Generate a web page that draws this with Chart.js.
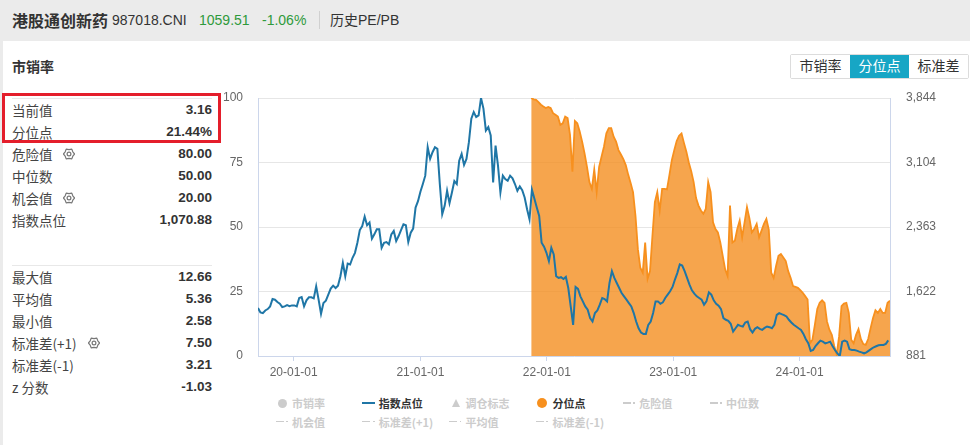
<!DOCTYPE html>
<html>
<head>
<meta charset="utf-8">
<script src="https://cdn.jsdelivr.net/npm/chart.js@4.4.1/dist/chart.umd.min.js"></script>
<style>
  html, body { margin: 0; padding: 0; }
  body {
    width: 970px; height: 445px; overflow: hidden; position: relative;
    background: #ebebeb; color: #333;
    font-family: 'Liberation Sans', 'Noto Sans CJK SC', sans-serif;
  }
  .abs { position: absolute; white-space: nowrap; }
  .head { top: 0; line-height: 40px; font-size: 14px; }
  .panel { left: 3px; top: 41px; width: 967px; height: 404px; background: #fff; }
  .title { left: 12px; top: 55px; font-size: 14px; font-weight: bold; line-height: 22px; }
  .btns { left: 790px; top: 54px; height: 23px; display: flex; border: 1px solid #dcdcdc; border-radius: 2px; }
  .btns div { font-size: 14px; line-height: 23px; padding: 0 8.5px; color: #333; background: #fff; }
  .btns div.on { background: #17a6c5; color: #fff; }
  .row { left: 12px; width: 200px; height: 22px; line-height: 22px; font-size: 14px; }
  .row .lab { position: absolute; left: 0; color: #444; font-family: 'Noto Sans CJK SC', sans-serif; font-size: 13.5px; }
  .row .val { position: absolute; right: 0; font-weight: bold; font-size: 13.5px; color: #333; }
  .row svg { position: absolute; top: 5px; }
  .hr { left: 12px; width: 200px; height: 1px; background: #e8e8e8; }
  .redbox { left: 2px; top: 93px; width: 219px; height: 50px; box-sizing: border-box; border: 3px solid #e41e2b; z-index: 5; }
  .chartbox { left: 220px; top: 85px; width: 750px; height: 300px; }
  .leg { height: 16px; line-height: 16px; font-size: 11px; font-weight: bold; font-family: 'Noto Sans CJK SC', sans-serif; color: #cccccc; }
  .leg.on { color: #333; }
  .leg i { position: absolute; display: block; }
  .leg span { position: absolute; left: 16.5px; top: 0; }
</style>
</head>
<body>
<div class="abs panel"></div>

<div class="abs head" style="left:12px;font-size:16px;font-weight:bold;font-family:'Noto Sans CJK SC',sans-serif;">港股通创新药</div>
<div class="abs head" style="left:112px;">987018.CNI</div>
<div class="abs head" style="left:199px;color:#2f9a3b;">1059.51</div>
<div class="abs head" style="left:262px;color:#2f9a3b;">-1.06%</div>
<div class="abs" style="left:319px;top:11px;width:1px;height:18px;background:#d0d0d0;"></div>
<div class="abs head" style="left:330px;">历史PE/PB</div>

<div class="abs title" style="font-family:'Noto Sans CJK SC',sans-serif;">市销率</div>

<div class="abs btns">
  <div>市销率</div><div class="on">分位点</div><div>标准差</div>
</div>

<div class="abs hr" style="top:98px;"></div>
<div class="abs hr" style="top:265px;"></div>
<div class="abs redbox"></div>
<div id="stats"></div>

<div class="abs chartbox"><canvas id="chart" width="750" height="300"></canvas></div>
<div id="legend"></div>

<script>
// weekly samples
const indexStart = '2019-09-20';
const pctStart = '2021-11-17';
const stepDays = 7;

// 指数点位 (right axis)
const indexValues = [
  1431, 1381, 1374, 1404, 1420, 1451, 1535, 1528, 1501, 1481,
  1443, 1451, 1466, 1454, 1462, 1462, 1451, 1547, 1558, 1451,
  1520, 1555, 1555, 1543, 1682, 1528, 1366, 1489, 1516, 1585,
  1655, 1689, 1662, 1689, 1797, 1951, 1797, 1943, 1932, 2009,
  2066, 2182, 2328, 2374, 2482, 2382, 2413, 2228, 2278, 2336,
  2336, 2124, 2182, 2190, 2163, 2278, 2317, 2201, 2259, 2328,
  2394, 2382, 2190, 2297, 2344, 2586, 2659, 2767, 2856, 2952,
  3279, 3144, 3221, 3279, 3260, 2856, 2509, 2605, 2779, 2636,
  2759, 2890, 2856, 3125, 3202, 3075, 3144, 3337, 3606, 3683,
  3625, 3645, 3844, 3722, 3471, 3510, 3414, 2875, 3298, 3067,
  2759, 2952, 2913, 2894, 2952, 2921, 2856, 2779, 2829, 2786,
  2702, 2567, 2451, 2790, 2690, 2586, 2490, 2182, 2136, 2066,
  1970, 2124, 2047, 1797, 1778, 1786, 1766, 1789, 1662, 1451,
  1239, 1674, 1651, 1566, 1508, 1451, 1412, 1316, 1277, 1374,
  1404, 1470, 1547, 1535, 1508, 1720, 1855, 1778, 1720, 1662,
  1605, 1566, 1528, 1489, 1451, 1374, 1277, 1200, 1150, 1135,
  1135, 1239, 1277, 1374, 1508, 1508, 1481, 1497, 1547, 1585,
  1624, 1674, 1759, 1836, 1932, 1920, 1855, 1778, 1701, 1635,
  1597, 1566, 1547, 1528, 1470, 1508, 1612, 1585, 1520, 1481,
  1458, 1420, 1316, 1297, 1285, 1251, 1162, 1200, 1239, 1227,
  1220, 1266, 1277, 1189, 1150, 1193, 1212, 1193, 1181, 1204,
  1220, 1212, 1200, 1239, 1354, 1374, 1362, 1351, 1335, 1297,
  1266, 1239, 1220, 1200, 1181, 1135, 1073, 1027, 939, 950,
  996, 1027, 1058, 1046, 1027, 1035, 1046, 996, 950, 912,
  881, 1046, 1058, 1046, 958, 950, 950, 943, 931, 923,
  912, 923, 943, 962, 981, 993, 1004, 1008, 1008, 1020,
  1060
];

// 分位点 % (left axis)
const pctValues = [
  100, 99.5, 99.3, 98.4, 97.4, 96.7, 96.1, 96.5, 96.1, 94.1,
  93.5, 92.8, 89.6, 90.2, 92.8, 92.2, 85.7, 71.4, 91.1, 90.2,
  87.0, 83.1, 78.5, 73.3, 67.4, 64.8, 72.3, 63.5, 73.3, 77.2,
  81.1, 86.3, 88.3, 88.3, 85.0, 83.1, 79.8, 78.1, 76.3, 74.0,
  70.3, 67.1, 63.5, 54.4, 41.4, 34.2, 32.3, 44.0, 29.9, 32.9,
  46.6, 59.6, 63.5, 56.4, 64.8, 64.8, 64.6, 70.1, 75.9, 79.8,
  83.3, 85.4, 86.3, 82.6, 79.2, 75.0, 71.6, 67.4, 61.2, 58.3,
  56.4, 55.1, 57.0, 67.4, 63.5, 51.8, 49.2, 47.9, 44.0, 38.8,
  33.6, 31.0, 58.3, 44.0, 44.7, 49.2, 52.5, 46.0, 51.8, 57.7,
  53.4, 47.9, 49.2, 51.2, 46.0, 48.6, 51.2, 53.1, 49.0, 32.3,
  30.3, 34.9, 38.8, 39.5, 38.2, 36.8, 32.9, 30.3, 27.1, 26.8,
  26.4, 25.5, 24.5, 23.2, 21.9, 4.9, 6.3, 12.1, 18.2, 20.6,
  21.6, 20.6, 13.4, 10.2, 8.2, 3.9, 0.5, 7.6, 19.3, 20.3,
  20.6, 16.7, 6.3, 4.9, 8.2, 10.4, 6.5, 4.6, 4.3, 6.6,
  10.8, 14.7, 17.7, 16.7, 18.2, 16.7, 16.7, 20.6, 21.4
];

const xTickDates = ['2020-01-01', '2021-01-01', '2022-01-01', '2023-01-01', '2024-01-01'];
const pctTicks = [0, 25, 50, 75, 100];
const indexTicks = [881, 1622, 2363, 3104, 3844];

const currentLabels = ['当前值', '分位点', '危险值', '中位数', '机会值', '指数点位'];
const currentValues = ['3.16', '21.44%', '80.00', '50.00', '20.00', '1,070.88'];
const summaryLabels = ['最大值', '平均值', '最小值', '标准差(+1)', '标准差(-1)', 'z 分数'];
const summaryValues = ['12.66', '5.36', '2.58', '7.50', '3.21', '-1.03'];
const gearLabels = ['危险值', '机会值', '标准差(+1)'];

const legendNames = ['市销率', '指数点位', '调仓标志', '分位点', '危险值', '中位数',
                     '机会值', '标准差(+1)', '平均值', '标准差(-1)'];
const legendShown = ['指数点位', '分位点'];

// ---- side panel ----
function gearSvg(left) {
  let pts = [];
  for (let k = 0; k < 12; k++) {
    const a = Math.PI / 6 * k, r = k % 2 ? 4.4 : 5.6;
    pts.push((6 + r * Math.cos(a)).toFixed(2) + ',' + (6 + r * Math.sin(a)).toFixed(2));
  }
  return '<svg width="12" height="12" style="left:' + left + 'px">' +
    '<polygon points="' + pts.join(' ') + '" fill="none" stroke="#777" stroke-width="1.2" stroke-linejoin="round"/>' +
    '<circle cx="6" cy="6" r="1.9" fill="none" stroke="#777" stroke-width="1.2"/></svg>';
}

const stats = document.getElementById('stats');
function addRows(labels, values, top) {
  labels.forEach((lab, i) => {
    const row = document.createElement('div');
    row.className = 'abs row';
    row.style.top = (top + i * 22) + 'px';
    let html = '<span class="lab">' + lab + '</span><span class="val">' + values[i] + '</span>';
    if (gearLabels.includes(lab)) html += gearSvg(lab.length > 3 ? 76 : 51);
    row.innerHTML = html;
    stats.appendChild(row);
  });
}
addRows(currentLabels, currentValues, 99);
addRows(summaryLabels, summaryValues, 266);

// ---- legend ----
const legendIcons = ['circle', 'line', 'triangle', 'circle', 'dash', 'dash', 'dash', 'dash', 'dash', 'dash'];
const legend = document.getElementById('legend');
legendNames.forEach((name, i) => {
  const on = legendShown.includes(name);
  const col = i % 6, row = Math.floor(i / 6);
  const item = document.createElement('div');
  item.className = 'abs leg' + (on ? ' on' : '');
  item.style.left = (275.5 + col * 86.8) + 'px';
  item.style.top = (395 + row * 18.7) + 'px';
  const c = name === '分位点' ? '#f7901e' : name === '指数点位' ? '#1f76a6' : '#cccccc';
  let icon = '';
  if (legendIcons[i] === 'circle') {
    const d = name === '分位点' ? 10 : 9;
    icon = '<i style="left:' + (6.5 - d / 2) + 'px;top:' + (8 - d / 2) + 'px;width:' + d + 'px;height:' + d + 'px;border-radius:50%;background:' + c + '"></i>';
  } else if (legendIcons[i] === 'line') {
    icon = '<i style="left:0;top:7px;width:13px;height:2px;background:' + c + '"></i>';
  } else if (legendIcons[i] === 'triangle') {
    icon = '<i style="left:2.5px;top:3.5px;width:0;height:0;border-left:4px solid transparent;border-right:4px solid transparent;border-bottom:8px solid ' + c + '"></i>';
  } else {
    icon = '<i style="left:0;top:7px;width:8px;height:1.5px;background:' + c + '"></i>' +
           '<i style="left:10.5px;top:7px;width:1.8px;height:1.8px;background:' + c + '"></i>';
  }
  item.innerHTML = icon + '<span>' + name + '</span>';
  legend.appendChild(item);
});

// ---- chart ----
const dayMs = 86400000;
const toPoints = (start, values) =>
  values.map((v, i) => ({ x: Date.parse(start) + i * stepDays * dayMs, y: v }));
const indexPoints = toPoints(indexStart, indexValues);
const pctPoints = toPoints(pctStart, pctValues);

const tickFont = { family: "'Liberation Sans', sans-serif", size: 12 };
const clear = 'rgba(0,0,0,0)';

new Chart(document.getElementById('chart'), {
  type: 'line',
  data: {
    datasets: [
      {
        label: '指数点位',
        data: indexPoints,
        yAxisID: 'yIndex',
        borderColor: '#1f76a6',
        borderWidth: 2,
        pointRadius: 0,
        fill: false,
        tension: 0,
      },
      {
        label: '分位点',
        data: pctPoints,
        yAxisID: 'yPct',
        borderColor: '#f7901e',
        borderWidth: 1.8,
        backgroundColor: 'rgba(244,142,32,0.8)',
        pointRadius: 0,
        fill: 'origin',
        tension: 0,
      },
    ],
  },
  options: {
    responsive: false,
    animation: false,
    events: [],
    layout: { padding: { top: 13, left: 0, right: 0, bottom: 0 } },
    plugins: { legend: { display: false }, tooltip: { enabled: false } },
    scales: {
      x: {
        type: 'linear',
        min: indexPoints[0].x,
        max: pctPoints[pctPoints.length - 1].x,
        afterBuildTicks: s => { s.ticks = xTickDates.map(d => ({ value: Date.parse(d) })); },
        afterFit: s => { s.height = 29; },
        grid: { drawOnChartArea: false, color: '#ccd6eb', tickLength: 5 },
        border: { color: '#ccd6eb' },
        ticks: {
          autoSkip: false, maxRotation: 0, padding: 4, color: '#666', font: tickFont,
          callback: (v, i) => xTickDates[i].slice(2),
        },
      },
      yPct: {
        position: 'left',
        min: 0,
        max: 100,
        afterBuildTicks: s => { s.ticks = pctTicks.map(v => ({ value: v })); },
        afterFit: s => { s.width = 38; },
        grid: { color: '#e6e6e6', tickColor: clear, tickLength: 15 },
        border: { color: '#ccd6eb' },
        ticks: { padding: 0, color: '#666', font: tickFont },
      },
      yIndex: {
        position: 'right',
        min: 881,
        max: 3844,
        afterBuildTicks: s => { s.ticks = indexTicks.map(v => ({ value: v })); },
        afterFit: s => { s.width = 80; },
        grid: { drawOnChartArea: false, tickColor: clear, tickLength: 16 },
        border: { color: '#ccd6eb' },
        ticks: { padding: 0, color: '#666', font: tickFont, callback: v => v.toLocaleString('en-US') },
      },
    },
  },
});
</script>
</body>
</html>
